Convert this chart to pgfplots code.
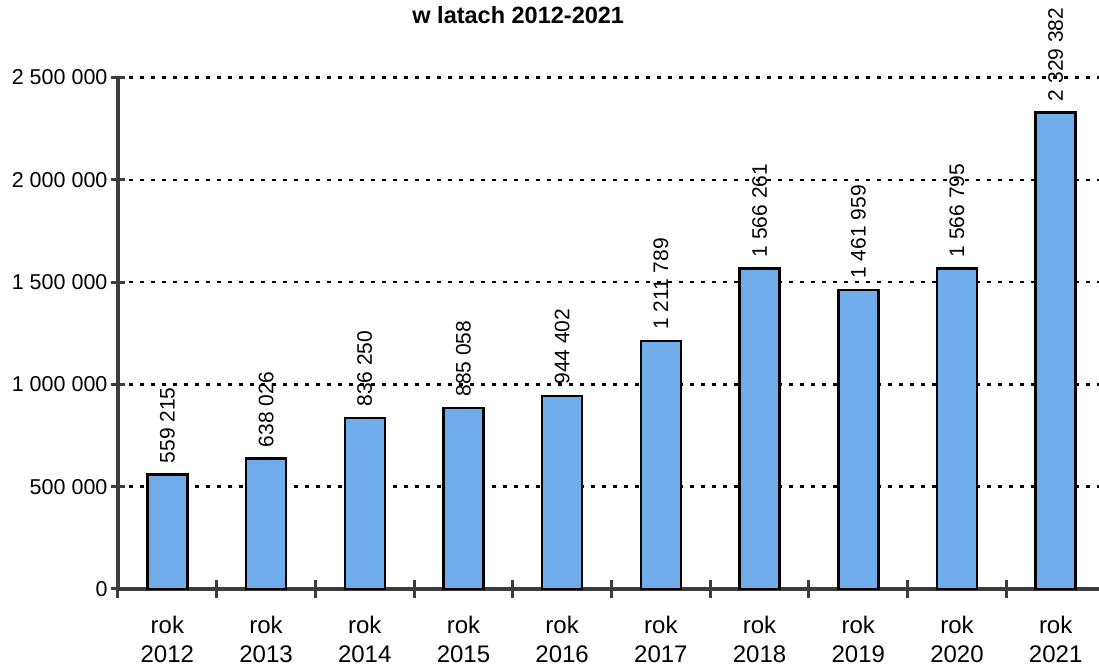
\documentclass[border=0pt]{standalone}
\usepackage{pgfplots}
\pgfplotsset{compat=1.18}
\usepackage{pgfplotstable}
\usepackage{fontspec}
\setmainfont{Liberation Sans}

\definecolor{barfill}{RGB}{112,172,234}
\definecolor{axisgray}{RGB}{60,60,60}

% liczba w latach 2012-2021
\pgfplotstableread{
x y lab
0 559215 {559 215}
1 638026 {638 026}
2 836250 {836 250}
3 885058 {885 058}
4 944402 {944 402}
5 1211789 {1 211 789}
6 1566261 {1 566 261}
7 1461959 {1 461 959}
8 1566795 {1 566 795}
9 2329382 {2 329 382}
}\dane

\begin{document}
\begin{tikzpicture}
\begin{axis}[
    scale only axis, width=981pt, height=511.5pt,
    xmin=-0.5, xmax=9.439, ymin=0, ymax=2500000,
    scaled y ticks=false,
    clip=false,
    axis lines*=left,
    axis line style={axisgray, line width=3.5pt},
    ybar, bar width=40pt,
    tick align=center,
    xtick={0,...,9},
    xticklabels={rok\\2012,rok\\2013,rok\\2014,rok\\2015,rok\\2016,rok\\2017,rok\\2018,rok\\2019,rok\\2020,rok\\2021},
    xticklabel style={align=center, yshift=-17pt, font=\fontsize{24}{29}\selectfont},
    major x tick style={draw=none},
    minor xtick={-0.5,0.5,...,8.5},
    minor tick length=18pt,
    minor x tick style={axisgray, line width=3pt},
    ytick={0,500000,1000000,1500000,2000000,2500000},
    yticklabels={0,500 000,1 000 000,1 500 000,2 000 000,2 500 000},
    yticklabel style={font=\fontsize{21.5}{24}\selectfont},
    major tick length=14pt,
    major y tick style={axisgray, line width=3pt},
    ymajorgrids,
    major grid style={black, line width=2.5pt, dash pattern=on 4pt off 7pt},
    nodes near coords,
    point meta=explicit symbolic,
    every node near coord/.append style={rotate=90, anchor=west, text=black,
        inner xsep=10pt, inner ysep=0pt, font=\fontsize{21}{24}\selectfont},
  ]
  \addplot[draw=black, line width=2.5pt, fill=barfill]
    table[x=x, y=y, meta=lab] {\dane};
  \node[font=\bfseries\fontsize{23.5}{26}\selectfont, anchor=base]
    at (rel axis cs:0.408,1.1046) {w latach 2012-2021};
  \coordinate (BL) at (rel axis cs:-0.12029,-0.15054);
  \coordinate (TR) at (rel axis cs:1,1.15152);
\end{axis}
\pgfresetboundingbox
\useasboundingbox (BL) rectangle (TR);
\end{tikzpicture}
\end{document}
